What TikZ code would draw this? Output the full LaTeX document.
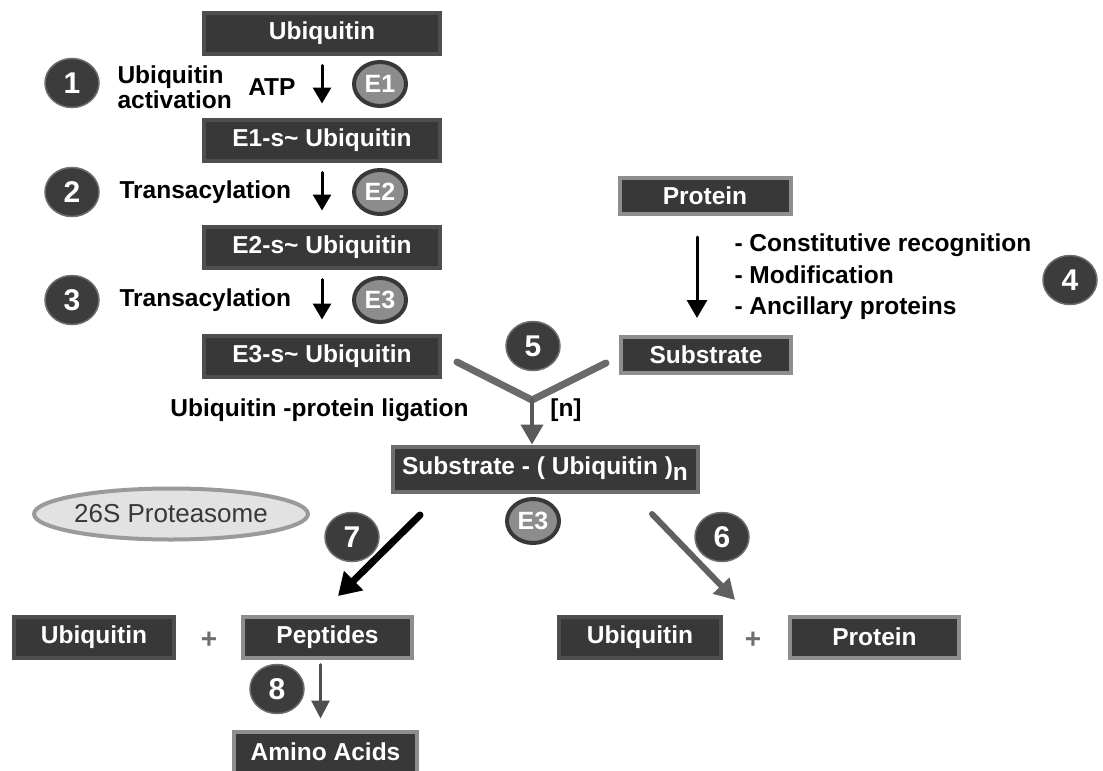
\documentclass[tikz,border=0pt]{standalone}
\usepackage{fontspec}
\setmainfont{Liberation Sans}
\usetikzlibrary{arrows.meta,shapes.geometric}
\definecolor{boxfill}{HTML}{383838}
\definecolor{ubframe}{HTML}{4E4E4E}
\definecolor{prframe}{HTML}{8E8E8E}
\definecolor{numfill}{HTML}{3C3C3C}
\definecolor{numring}{HTML}{6E6E6E}
\definecolor{enzfill}{HTML}{8C8C8C}
\definecolor{armgray}{HTML}{6A6A6A}
\definecolor{ovalfill}{HTML}{E2E2E2}
\definecolor{ovalline}{HTML}{9A9A9A}
\begin{document}
\begin{tikzpicture}[x=1pt,y=-1pt,line cap=round,
	font=\bfseries\fontsize{24.5}{25}\selectfont,
	ubbox/.style={draw=ubframe,line width=4pt,fill=boxfill,text=white,
		inner sep=0pt,minimum height=41},
	prbox/.style={ubbox,draw=prframe},
	num/.style={ellipse,fill=numfill,draw=numring,line width=1.5pt,
		text=white,inner sep=0pt,minimum width=54,minimum height=49,
		font=\bfseries\fontsize{30}{30}\selectfont},
	enz/.style={ellipse,fill=enzfill,draw=boxfill,line width=4pt,
		text=white,inner sep=0pt,minimum width=52,minimum height=44,
		font=\bfseries\fontsize{25}{25}\selectfont},
	dn/.style={line width=3pt,-{Triangle[width=18pt,length=16pt]},
		shorten <=10pt,shorten >=14pt}]
	\def\bw{236}
	\def\sp{\hspace{7pt}}
	\useasboundingbox (0,0) rectangle (1103,771);
	\node[ubbox,minimum width=\bw] (ub) at (322,33) {Ubiquitin};
	\node[ubbox,minimum width=\bw] (e1ub) at (322,140)
	{E1-s\textasciitilde\sp Ubiquitin};
	\node[ubbox,minimum width=\bw] (e2ub) at (322,247)
	{E2-s\textasciitilde\sp Ubiquitin};
	\node[ubbox,minimum width=\bw] (e3ub) at (322,356)
	{E3-s\textasciitilde\sp Ubiquitin};
	\node[num] (n1) at (72,83) {1};
	\node[num] (n2) at (72,192) {2};
	\node[num] (n3) at (72,300) {3};
	\node[anchor=west,align=left] (act) at (114,87) {Ubiquitin\\activation};
	\node[anchor=east] (atp) at (299,87) {ATP};
	\node[anchor=west] (tr1) at (116,192) {Transacylation};
	\node[anchor=west] (tr2) at (116,300) {Transacylation};
	\node[enz] (e1) at (380,84) {E1};
	\node[enz] (e2) at (380,192) {E2};
	\node[enz] (e3) at (380,300) {E3};
	\draw[dn] (ub) -- (e1ub);
	\draw[dn] (e1ub) -- (e2ub);
	\draw[dn] (e2ub) -- (e3ub);
	\node[prbox,minimum width=171,minimum height=36] (prot) at (705,196)
	{Protein};
	\node[prbox,minimum width=170,minimum height=36] (sub) at (706,355)
	{Substrate};
	\draw[dn,-{Triangle[width=20pt,length=18pt]},shorten <=21pt,
	shorten >=17pt] ([xshift=-8]prot.south) -- ([xshift=-9]sub.north);
	\node[anchor=west,align=left,font=\bfseries\fontsize{24.5}{31.5}\selectfont]
	(why) at (731,277)
	{- Constitutive recognition\\- Modification\\- Ancillary proteins};
	\node[num] (n4) at (1070,280) {4};
	\coordinate (j) at (532,400);
	\draw[armgray,line width=7pt] ([shift={(15,6)}]e3ub.east) -- (j)
	-- ([shift={(-13,8)}]sub.west);
	\node[num] (n5) at (533,346) {5};
	\node[anchor=east] (lig) at (472,410) {Ubiquitin -protein ligation};
	\node (nn) at (566,410) {[n]};
	\node[prbox,draw=numring,minimum width=305,minimum height=45] (sububn)
	at (545,469)
	{Substrate - ( Ubiquitin )\raisebox{-6pt}{n}};
	\draw[armgray!85!black,line width=4pt,
	-{Triangle[width=22pt,length=20pt]}] (j) -- (j |- sububn.north);
	\node[enz] (e3b) at (533,521) {E3};
	\node[ellipse,fill=ovalfill,draw=ovalline,line width=4pt,
	text=boxfill,inner sep=0pt,minimum width=254,minimum height=51,
	font=\fontsize{26}{26}\selectfont] (pro26) at (171,514)
	{26S Proteasome};
	\node[ubbox,minimum width=160] (ub3) at (94,637) {Ubiquitin};
	\node[text=numring,font=\bfseries\fontsize{28}{28}\selectfont] (pl1)
	at (209,640) {+};
	\node[prbox,minimum width=169] (pep) at (327.5,637) {Peptides};
	\node[ubbox,minimum width=162] (ub4) at (640,637) {Ubiquitin};
	\node[text=numring,font=\bfseries\fontsize{28}{28}\selectfont] (pl2)
	at (753,640) {+};
	\node[prbox,minimum width=169] (prot2) at (874.5,637) {Protein};
	\node[prbox,minimum width=183] (amino) at (325.5,752) {Amino Acids};
	\draw[line width=7pt,-{Triangle[width=26pt,length=22pt]}]
	([shift={(29.5,21.5)}]sububn.south west)
	-- ([shift={(10.5,-18.5)}]pep.north);
	\node[num] (n7) at (352,537) {7};
	\draw[boxfill!80!white,line width=6pt,
	-{Triangle[width=22pt,length=20pt]}]
	([shift={(-47.5,20.5)}]sububn.south east)
	-- ([shift={(12,-14.5)}]ub4.north east);
	\node[num] (n6) at (722,537) {6};
	\draw[ubframe,line width=3pt,-{Triangle[width=18pt,length=18pt]},
	shorten <=5pt,shorten >=11pt]
	([xshift=-7]pep.south) -- ([xshift=-5]amino.north);
	\node[num] (n8) at (277,689) {8};
\end{tikzpicture}
\end{document}
